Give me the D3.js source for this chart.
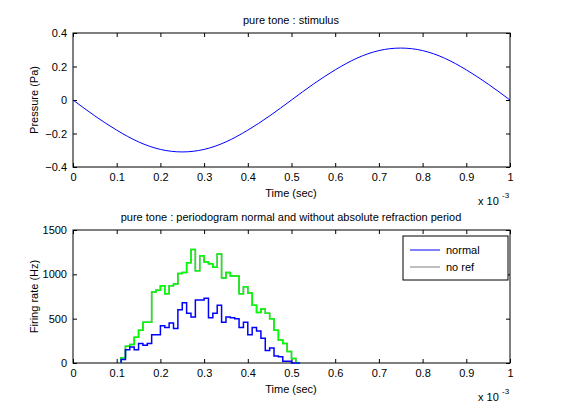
<!DOCTYPE html>
<html><head><meta charset="utf-8">
<script src="https://cdn.jsdelivr.net/npm/d3@7"></script>
<style>body{margin:0;background:#fff}text{font-family:"Liberation Sans",Arial,sans-serif;font-size:11px}</style>
</head><body><div id="chart"></div>
<script>
// stimulus: pure tone, one period of 1 ms, read every 0.05 ms
var tone_t = [0,0.05,0.1,0.15,0.2,0.25,0.3,0.35,0.4,0.45,0.5,0.55,0.6,0.65,0.7,0.75,0.8,0.85,0.9,0.95,1];
var tone_p = [0,-0.095,-0.18,-0.25,-0.295,-0.31,-0.295,-0.25,-0.18,-0.095,0,0.095,0.18,0.25,0.295,0.31,0.295,0.25,0.18,0.095,0];

// periodogram bins (start of bin, ms*1e-3)
var bin_start = d3.range(0.11, 0.515, 0.01);
var rate_normal = [40,150,180,150,220,200,220,320,320,420,400,450,390,600,680,560,520,710,710,730,510,560,650,460,520,510,500,400,460,320,400,360,280,140,170,80,70,20,20,0,0];
var rate_noref = [60,190,210,290,370,460,460,800,820,870,780,870,890,1010,1020,1130,1280,1040,1210,1140,1120,1080,1230,960,1020,980,980,780,860,790,650,570,610,560,500,370,260,220,130,50,0];
var rate_other = rate_noref.slice();

var xticks = d3.range(0, 1.01, 0.1);

var svg = d3.select("#chart").append("svg").attr("width", 561).attr("height", 414);

var x = d3.scaleLinear().domain([0, 1]).range([73, 510]);
var y1 = d3.scaleLinear().domain([-0.4, 0.4]).range([167, 33]);
var y2 = d3.scaleLinear().domain([0, 1500]).range([363, 230]);

function panel(y, yticks, fmt, title, ylabel, top) {
  var g = svg.append("g");
  g.append("rect").attr("x", 73).attr("y", top).attr("width", 437).attr("height", y.range()[0] - top)
    .attr("fill", "none").attr("stroke", "#000");
  var bottom = y.range()[0];
  g.append("g").attr("transform", "translate(0," + bottom + ")")
    .call(d3.axisBottom(x).tickValues(xticks).tickSize(-4).tickPadding(6).tickFormat(d3.format("~g")));
  g.append("g").attr("transform", "translate(0," + top + ")")
    .call(d3.axisTop(x).tickValues(xticks).tickSize(-4).tickFormat(""));
  g.append("g").attr("transform", "translate(73,0)")
    .call(d3.axisLeft(y).tickValues(yticks).tickSize(-4).tickPadding(6).tickFormat(fmt));
  g.append("g").attr("transform", "translate(510,0)")
    .call(d3.axisRight(y).tickValues(yticks).tickSize(-4).tickFormat(""));
  g.selectAll(".domain").remove();
  g.selectAll(".tick line").attr("stroke", "#000");
  g.selectAll(".tick text").attr("fill", "#000").style("font-size", "11px");
  g.append("text").attr("x", 291).attr("y", top - 9).attr("text-anchor", "middle").text(title);
  g.append("text").attr("x", 291).attr("y", bottom + 30).attr("text-anchor", "middle").text("Time (sec)");
  g.append("text").attr("transform", "translate(38," + ((top + bottom) / 2) + ") rotate(-90)")
    .attr("text-anchor", "middle").text(ylabel);
  g.append("text").attr("x", 478).attr("y", bottom + 38).text("x 10");
  g.append("text").attr("x", 502).attr("y", bottom + 31).style("font-size", "8px").text("-3");
}

panel(y1, [-0.4, -0.2, 0, 0.2, 0.4], d3.format("~g"), "pure tone : stimulus", "Pressure (Pa)", 33);
panel(y2, [0, 500, 1000, 1500], d3.format("d"), "pure tone : periodogram normal and without absolute refraction period", "Firing rate (Hz)", 230);

svg.append("path").datum(tone_p)
  .attr("d", d3.line().curve(d3.curveNatural).x(function(d, i) { return x(tone_t[i]); }).y(function(d) { return y1(d); }))
  .attr("fill", "none").attr("stroke", "#0000ff");

var step = d3.line().curve(d3.curveStepAfter)
  .x(function(d) { return x(d[0]); }).y(function(d) { return y2(d[1]); });
function stepdata(vals) {
  var pts = [[bin_start[0], 0]];
  vals.forEach(function(v, i) { pts.push([bin_start[i], v]); });
  pts.push([bin_start[vals.length - 1] + 0.01, 0]);
  return pts;
}
svg.append("path").datum(stepdata(rate_noref)).attr("d", step).attr("fill", "none").attr("stroke", "#808080").attr("stroke-width", 1.5);
svg.append("path").datum(stepdata(rate_other)).attr("d", step).attr("fill", "none").attr("stroke", "#00ff00").attr("stroke-width", 1.5);
svg.append("path").datum(stepdata(rate_normal)).attr("d", step).attr("fill", "none").attr("stroke", "#0000ff").attr("stroke-width", 1.5);

// legend
var lg = svg.append("g");
lg.append("rect").attr("x", 403).attr("y", 236).attr("width", 105).attr("height", 44).attr("fill", "#fff").attr("stroke", "#000");
[["normal", "#0000ff"], ["no ref", "#808080"]].forEach(function(d, i) {
  var yy = 250 + i * 17;
  lg.append("line").attr("x1", 410).attr("x2", 440).attr("y1", yy).attr("y2", yy).attr("stroke", d[1]);
  lg.append("text").attr("x", 446).attr("y", yy + 4).text(d[0]);
});
</script></body></html>
